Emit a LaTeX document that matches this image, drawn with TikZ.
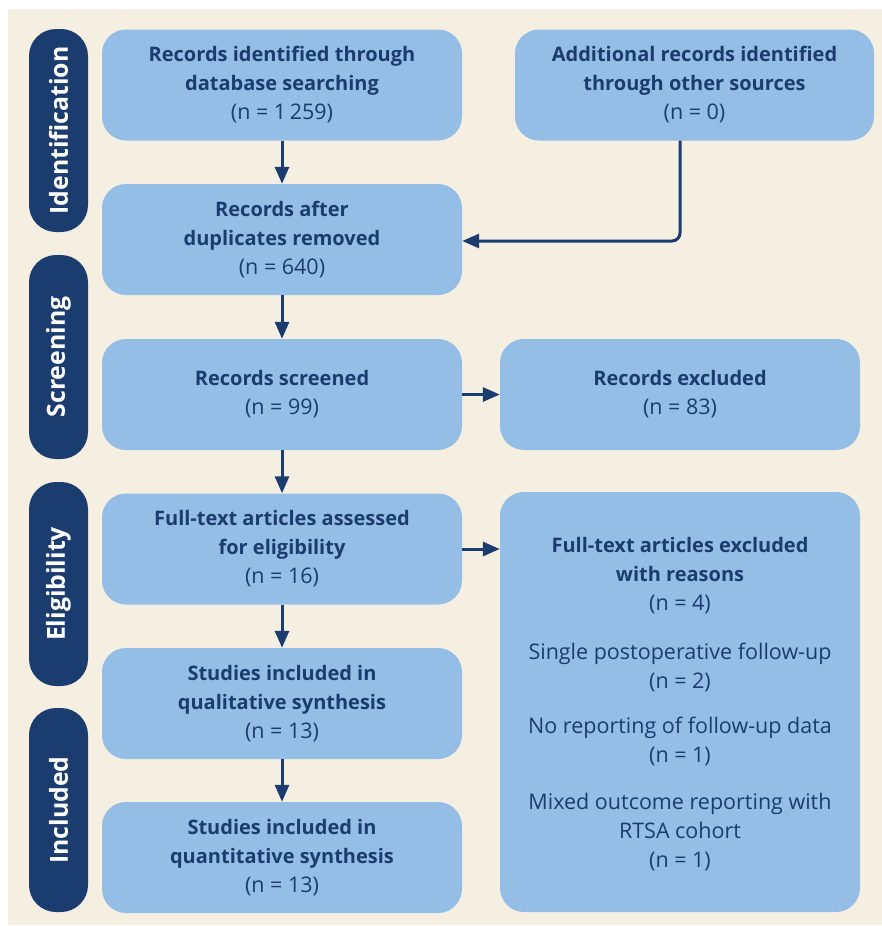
\documentclass[tikz,border=0pt]{standalone}
\usepackage{fontspec}
\setmainfont{Open Sans}
\usetikzlibrary{arrows.meta}
\definecolor{navy}{HTML}{1B3C6E}
\definecolor{boxblue}{HTML}{95BEE6}
\definecolor{beige}{HTML}{F5EFE2}
\newcommand{\regn}{\mdseries\fontsize{21.5}{29}\selectfont}
\tikzset{
  box/.style={fill=boxblue, rounded corners=24, inner sep=0pt, align=center, text=navy,
    font=\bfseries\fontsize{20}{29}\selectfont},
  leftbox/.style={box, minimum width=360, minimum height=111},
  side/.style={fill=navy, rounded corners=27, inner sep=0pt, text=white, rotate=90,
    minimum height=59, font=\bfseries\fontsize{24.8}{28}\selectfont},
  plain/.style={inner sep=0pt, align=center, text=navy, font=\fontsize{21.5}{29}\selectfont},
  flow/.style={draw=navy, line width=3pt, -{Triangle[length=17pt,width=14pt]}}
}
\begin{document}
\begin{tikzpicture}[x=1pt,y=-1pt]
\useasboundingbox (0,0) rectangle (882,926);
\fill[white] (0,0) rectangle (882,926);
\fill[beige] (8,9) rectangle (882,925);
% side bars
\node[side, minimum width=203] (sid) at (58.5,130.5) {Identification};
\node[side, minimum width=204] (sscr) at (58.5,357) {Screening};
\node[side, minimum width=204] (selig) at (58.5,584) {Eligibility};
\node[side, minimum width=204] (sinc) at (58.5,810) {Included};
% left boxes
\node[leftbox] (b1) at (282,85) {Records identified through\\database searching\\\regn(n = 1\,259)};
\node[leftbox] (b2) at (282,239.5) {Records after\\duplicates removed\\\regn(n = 640)};
\node[leftbox] (b3) at (282,394.5) {Records screened\\\regn(n = 99)};
\node[leftbox] (b4) at (282,549) {Full-text articles assessed\\for eligibility\\\regn(n = 16)};
\node[leftbox] (b5) at (282,703.5) {Studies included in\\qualitative synthesis\\\regn(n = 13)};
\node[leftbox] (b6) at (282,857.5) {Studies included in\\quantitative synthesis\\\regn(n = 13)};
% right boxes
\node[box, minimum width=359, minimum height=111] (add) at (694.5,85) {Additional records identified\\through other sources\\\regn(n = 0)};
\node[box, minimum width=360, minimum height=111] (exc) at (680,394.5) {Records excluded\\\regn(n = 83)};
\node[box, minimum width=360, minimum height=420] (exc2) at (680,702) {};
\node[plain, font=\bfseries\fontsize{20}{29}\selectfont] (e1) at (680,575.5) {Full-text articles excluded\\with reasons\\\regn(n = 4)};
\node[plain] (e2) at (680,667) {Single postoperative follow-up\\(n = 2)};
\node[plain] (e3) at (680,741.5) {No reporting of follow-up data\\(n = 1)};
\node[plain] (e4) at (680,832) {Mixed outcome reporting with\\RTSA cohort\\(n = 1)};
% connectors
\draw[flow] (b1) -- (b2);
\draw[flow] (b2) -- (b3);
\draw[flow] (b3) -- (b4);
\draw[flow] (b4) -- (b5);
\draw[flow] (b5) -- (b6);
\coordinate (addout) at ([xshift=-14.5pt]add.south);
\draw[flow, rounded corners=8] (addout) |- ([yshift=-1.5pt]b2.east);
\draw[flow] (b3.east) -- (exc.west);
\draw[flow] (b4.east) -- (b4.east -| exc2.west);
\end{tikzpicture}
\end{document}
